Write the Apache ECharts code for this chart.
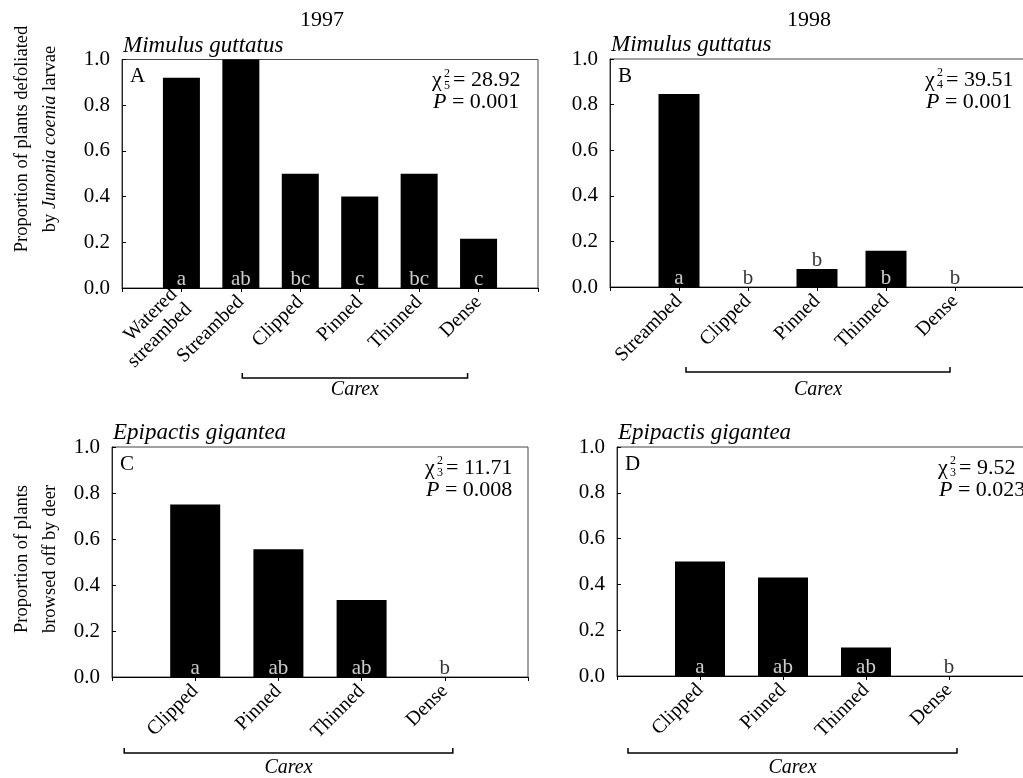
<!DOCTYPE html>
<html><head><meta charset="utf-8">
<script src="https://cdn.jsdelivr.net/npm/echarts@6/dist/echarts.min.js"></script>
<style>html,body{margin:0;padding:0;background:#fff}#c{width:1023px;height:778px}</style>
</head><body><div id="c"></div>
<script>
// ---- data ----
const catsA = ['Watered\nstreambed', 'Streambed', 'Clipped', 'Pinned', 'Thinned', 'Dense'];
const valsA = [0.92, 1.0, 0.50, 0.40, 0.50, 0.215];
const lettersA = ['a', 'ab', 'bc', 'c', 'bc', 'c'];

const catsB = ['Streambed', 'Clipped', 'Pinned', 'Thinned', 'Dense'];
const valsB = [0.846, 0, 0.079, 0.159, 0];
const lettersB = ['a', 'b', 'b', 'b', 'b'];

const catsC = ['Clipped', 'Pinned', 'Thinned', 'Dense'];
const valsC = [0.75, 0.555, 0.335, 0];
const lettersC = ['a', 'ab', 'ab', 'b'];

const catsD = ['Clipped', 'Pinned', 'Thinned', 'Dense'];
const valsD = [0.50, 0.43, 0.125, 0];
const lettersD = ['a', 'ab', 'ab', 'b'];

const yearLabels = ['1997', '1998'];
const speciesLabels = ['Mimulus guttatus', 'Mimulus guttatus', 'Epipactis gigantea', 'Epipactis gigantea'];
const panelLetters = ['A', 'B', 'C', 'D'];
const chiDf = ['5', '4', '3', '3'];
const chiVals = ['28.92', '39.51', '11.71', '9.52'];
const pVals = ['0.001', '0.001', '0.008', '0.023'];
const groupLabel = 'Carex';
const yTitleTop = 'Proportion of plants defoliated\nby {i|Junonia coenia} larvae';
const yTitleBottom = 'Proportion of plants\nbrowsed off by deer';

// ---- layout ----
const SERIF = '"Liberation Serif", "DejaVu Serif", serif';
const panels = [
  {cats: catsA, vals: valsA, letters: lettersA, grid: {left: 122, top: 59.5, width: 416, height: 228.5}, barW: 37, chiX: 310, carexFirst: 2, br: [-58, -11, 90, 102]},
  {cats: catsB, vals: valsB, letters: lettersB, grid: {left: 610, top: 59, width: 414, height: 228}, barW: 41, chiX: 315, carexFirst: 1, br: [-62, -5, 85, 103]},
  {cats: catsC, vals: valsC, letters: lettersC, grid: {left: 112, top: 447, width: 416, height: 230}, barW: 50, chiX: 313, carexFirst: 0, br: [-71, 8, 76, 91]},
  {cats: catsD, vals: valsD, letters: lettersD, grid: {left: 617, top: 447, width: 415, height: 229}, barW: 50, chiX: 321, carexFirst: 0, br: [-72, 8, 77, 92]}
];

const chart = echarts.init(document.getElementById('c'), null, {renderer: 'canvas'});

const grids = [], xAxes = [], yAxes = [], series = [];
panels.forEach((p, k) => {
  grids.push(Object.assign({show: true, borderColor: '#444', borderWidth: 1, backgroundColor: 'transparent', containLabel: false, outerBoundsMode: 'none'}, p.grid));
  xAxes.push({
    type: 'category', gridIndex: k, boundaryGap: false,
    data: [''].concat(p.cats, ['']),
    axisLine: {show: true, lineStyle: {color: '#000', width: 1}},
    axisTick: {show: true, length: 4, interval: 0, lineStyle: {color: '#000'}},
    axisLabel: {show: true, interval: 0, rotate: 45, margin: 11, color: '#000', fontSize: 20, fontFamily: SERIF, lineHeight: 21},
    splitLine: {show: false}
  });
  yAxes.push({
    type: 'value', gridIndex: k, min: 0, max: 1, interval: 0.2,
    axisLine: {show: true, lineStyle: {color: '#222', width: 1}},
    axisTick: {show: true, inside: true, length: 4, lineStyle: {color: '#000'}},
    axisLabel: {show: true, margin: 12, color: '#000', fontSize: 21, fontFamily: SERIF, formatter: v => v.toFixed(1)},
    splitLine: {show: false}
  });
  series.push({
    type: 'bar', xAxisIndex: k, yAxisIndex: k, barWidth: p.barW,
    itemStyle: {color: '#000'}, silent: true, animation: false,
    data: ['-'].concat(p.vals, ['-'])
  });
  series.push({
    type: 'scatter', xAxisIndex: k, yAxisIndex: k, symbolSize: 1, z: 5,
    itemStyle: {color: 'rgba(0,0,0,0)'}, silent: true, animation: false,
    data: p.vals.map((v, i) => {
      const above = v > 0 && v < 0.1;
      return {
        value: [i + 1, above ? v : 0],
        label: {show: true, position: 'top', distance: -2, formatter: p.letters[i],
          color: (v >= 0.1) ? '#fff' : '#000', fontSize: 21, fontFamily: SERIF}
      };
    })
  });
});

chart.setOption({
  animation: false,
  backgroundColor: '#fff',
  grid: grids, xAxis: xAxes, yAxis: yAxes, series: series
});

// ---- annotations ----
const g = [];
[0, 1].forEach(k => {
  const p = panels[k];
  g.push({type: 'text', x: p.grid.left + p.grid.width / 2 - 8, y: 20,
    style: {text: yearLabels[k], fill: '#000', fontSize: 22, fontFamily: SERIF, align: 'center', verticalAlign: 'middle'}});
});
g.push({type: 'text', x: 36, y: 139, rotation: Math.PI / 2,
  style: {text: yTitleTop, fill: '#000', fontSize: 18.5, fontFamily: SERIF, lineHeight: 28, align: 'center', verticalAlign: 'middle',
    rich: {i: {fontStyle: 'italic', fontSize: 18.5, fontFamily: SERIF, lineHeight: 28, fill: '#000'}}}});
g.push({type: 'text', x: 36, y: 559, rotation: Math.PI / 2,
  style: {text: yTitleBottom, fill: '#000', fontSize: 18.5, fontFamily: SERIF, lineHeight: 28, align: 'center', verticalAlign: 'middle'}});

panels.forEach((p, k) => {
  const x0 = p.grid.left, y0 = p.grid.top;
  const axisY = chart.convertToPixel({yAxisIndex: k}, 0);
  g.push({type: 'text', x: x0 + 1, y: y0 - 14,
    style: {text: speciesLabels[k], fill: '#000', fontSize: 23, fontStyle: 'italic', fontFamily: SERIF, align: 'left', verticalAlign: 'middle'}});
  g.push({type: 'text', x: x0 + 8, y: y0 + 17,
    style: {text: panelLetters[k], fill: '#000', fontSize: 21, fontFamily: SERIF, align: 'left', verticalAlign: 'middle'}});
  const cx = x0 + p.chiX, cy = y0 + 21;
  g.push({type: 'text', x: cx, y: cy, style: {text: 'χ', fill: '#000', fontSize: 22, fontFamily: SERIF, align: 'left', verticalAlign: 'middle'}});
  g.push({type: 'text', x: cx + 12, y: cy - 7, style: {text: '2', fill: '#000', fontSize: 12, fontFamily: SERIF, align: 'left', verticalAlign: 'middle'}});
  g.push({type: 'text', x: cx + 12, y: cy + 5, style: {text: chiDf[k], fill: '#000', fontSize: 12, fontFamily: SERIF, align: 'left', verticalAlign: 'middle'}});
  g.push({type: 'text', x: cx + 21, y: cy, style: {text: '= ' + chiVals[k], fill: '#000', fontSize: 22, fontFamily: SERIF, align: 'left', verticalAlign: 'middle'}});
  g.push({type: 'text', x: cx + 1, y: cy + 22,
    style: {text: '{i|P} = ' + pVals[k], fill: '#000', fontSize: 22, fontFamily: SERIF, align: 'left', verticalAlign: 'middle',
      rich: {i: {fontStyle: 'italic', fontSize: 22, fontFamily: SERIF, fill: '#000'}}}});
  const fx = chart.convertToPixel({xAxisIndex: k}, p.carexFirst + 1) + p.br[0];
  const lx = chart.convertToPixel({xAxisIndex: k}, p.cats.length) + p.br[1];
  const by = axisY + p.br[2];
  g.push({type: 'polyline', shape: {points: [[fx, by - 5], [fx, by], [lx, by], [lx, by - 5]]},
    style: {stroke: '#000', lineWidth: 1.5, fill: null}});
  g.push({type: 'text', x: (fx + lx) / 2, y: axisY + p.br[3],
    style: {text: groupLabel, fill: '#000', fontSize: 20, fontStyle: 'italic', fontFamily: SERIF, align: 'center', verticalAlign: 'middle'}});
});

chart.setOption({graphic: g});
</script>
</body></html>
